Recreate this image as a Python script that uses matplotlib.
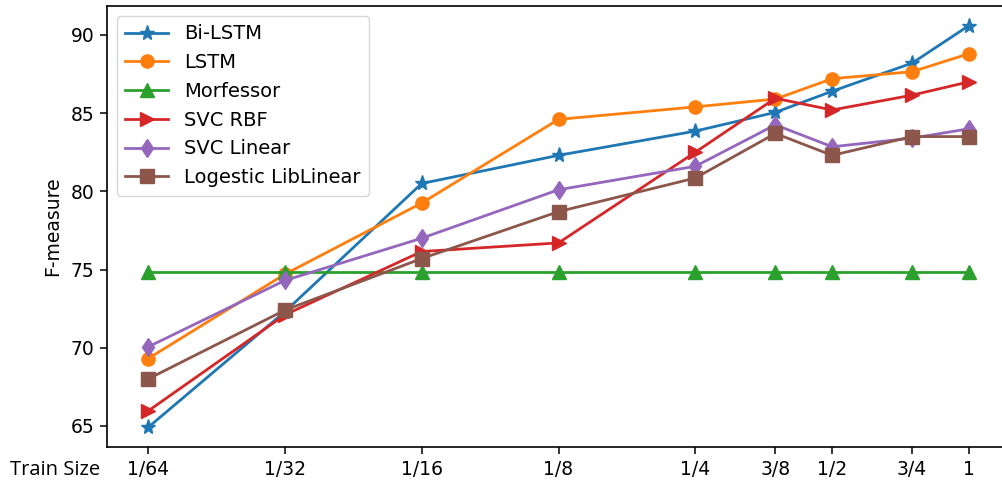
import matplotlib
matplotlib.use("Agg")
import matplotlib.pyplot as plt
import numpy as np

train_sizes = [1/64, 1/32, 1/16, 1/8, 1/4, 3/8, 1/2, 3/4, 1]
tick_labels = ["1/64", "1/32", "1/16", "1/8", "1/4", "3/8", "1/2", "3/4", "1"]

bi_lstm = [64.9, 72.3, 80.5, 82.3, 83.85, 85.05, 86.4, 88.2, 90.6]
lstm = [69.3, 74.7, 79.25, 84.6, 85.4, 85.9, 87.2, 87.65, 88.8]
morfessor = [74.85, 74.85, 74.85, 74.85, 74.85, 74.85, 74.85, 74.85, 74.85]
svc_rbf = [65.95, 72.1, 76.15, 76.7, 82.5, 85.95, 85.2, 86.15, 87.0]
svc_linear = [70.05, 74.3, 77.0, 80.1, 81.6, 84.25, 82.85, 83.4, 84.0]
logistic = [68.0, 72.4, 75.7, 78.7, 80.85, 83.7, 82.3, 83.5, 83.5]

series = [
    ("Bi-LSTM", bi_lstm, "*", "#1f77b4"),
    ("LSTM", lstm, "o", "#ff7f0e"),
    ("Morfessor", morfessor, "^", "#2ca02c"),
    ("SVC RBF", svc_rbf, ">", "#d62728"),
    ("SVC Linear", svc_linear, "d", "#9467bd"),
    ("Logestic LibLinear", logistic, "s", "#8c564b"),
]

fig = plt.figure(figsize=(10.03, 4.86), dpi=100)
ax = fig.add_axes([107/1003, 39/486, (1010-107)/1003, (447-6)/486])

for name, vals, m, c in series:
    ms = 11 if m == "*" else 9.5
    ax.plot(train_sizes, vals, marker=m, color=c, label=name, lw=2, ms=ms)

ax.set_xscale("log", base=2)
ax.set_xticks(train_sizes)
ax.set_xticklabels(tick_labels)
ax.minorticks_off()
ax.set_xlim(2**(-6.3), 2**(0.3))
ax.set_ylim(63.65, 91.85)
ax.set_yticks([65, 70, 75, 80, 85, 90])
ax.tick_params(labelsize=13.5, length=5, width=1.1, pad=4)
for s in ax.spines.values():
    s.set_linewidth(1.2)
ax.set_ylabel("F-measure", fontsize=13.5, labelpad=6)
fig.text(10/1003, 1 - 470/486, "Train Size", fontsize=14.5, va="center", ha="left",
         family=["Open Sans", "DejaVu Sans"])

ax.legend(loc="upper left", fontsize=14, borderaxespad=0.5, handlelength=2.2,
          labelspacing=0.5, borderpad=0.45)

fig.savefig("out.png", dpi=100)
